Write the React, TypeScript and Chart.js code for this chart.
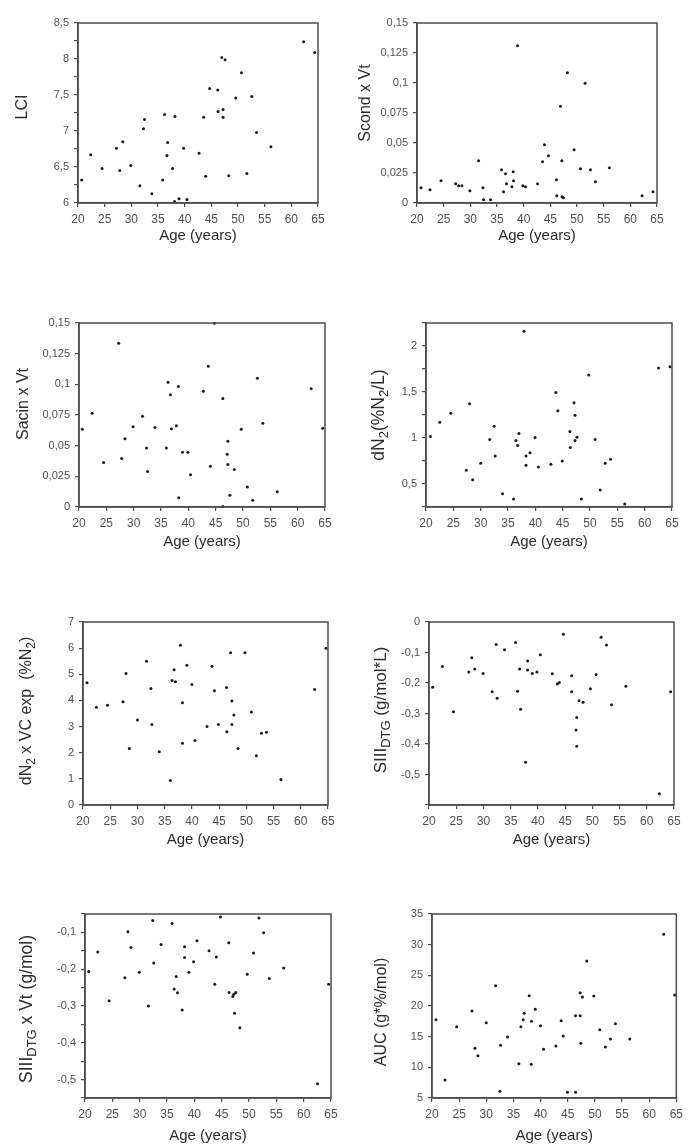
import React, { useEffect, useRef } from 'react';
import { Chart, registerables } from 'chart.js';

Chart.register(...registerables);

const FONT = '"Liberation Sans", Arial, Helvetica, sans-serif';

// ---------- data ----------
const ageTicks = [20, 25, 30, 35, 40, 45, 50, 55, 60, 65];

const lciAge = [20.69, 22.38, 24.51, 27.21, 27.83, 28.4, 29.9, 31.59, 32.28, 32.47, 33.85, 35.86, 36.23, 36.67, 36.8, 37.74, 38.11, 38.17, 38.93, 39.8, 40.43, 42.69, 43.56, 43.94, 44.69, 46.2, 46.26, 46.95, 47.2, 47.2, 47.58, 48.26, 49.58, 50.65, 51.65, 52.59, 53.47, 56.16, 62.3, 64.37];
const lciValues = [6.32, 6.67, 6.48, 6.76, 6.45, 6.85, 6.52, 6.24, 7.03, 7.16, 6.13, 6.32, 7.23, 6.66, 6.84, 6.48, 6.02, 7.2, 6.06, 6.76, 6.05, 6.69, 7.19, 6.37, 7.59, 7.57, 7.27, 8.02, 7.3, 7.19, 7.99, 6.38, 7.46, 7.81, 6.41, 7.48, 6.98, 6.78, 8.24, 8.09];

const scondAge = [20.75, 22.43, 24.5, 27.24, 27.8, 28.42, 29.92, 31.55, 32.36, 32.49, 33.8, 35.85, 36.22, 36.6, 36.78, 37.78, 38.04, 38.1, 38.85, 39.84, 40.34, 42.6, 43.53, 43.9, 44.65, 46.15, 46.2, 46.9, 47.15, 47.2, 47.45, 48.2, 49.45, 50.64, 51.52, 52.52, 53.45, 56.07, 62.2, 64.26];
const scondValues = [0.0128, 0.0111, 0.0186, 0.0161, 0.0144, 0.0144, 0.0103, 0.0353, 0.0128, 0.0028, 0.0028, 0.0278, 0.0094, 0.0244, 0.0161, 0.0136, 0.0261, 0.0186, 0.1311, 0.0144, 0.0136, 0.0161, 0.0344, 0.0486, 0.0394, 0.0194, 0.0061, 0.0806, 0.0353, 0.0053, 0.0044, 0.1086, 0.0444, 0.0286, 0.0997, 0.0278, 0.0178, 0.0294, 0.0061, 0.0094];

const sacinAge = [20.61, 22.4, 24.49, 27.25, 27.81, 28.42, 29.9, 31.62, 32.35, 32.54, 33.89, 35.98, 36.29, 36.72, 36.9, 37.82, 38.19, 38.25, 38.93, 39.91, 40.41, 42.74, 43.66, 44.03, 44.77, 46.31, 46.31, 47.11, 47.23, 47.23, 47.6, 48.4, 49.69, 50.79, 51.78, 52.64, 53.62, 56.26, 62.47, 64.56];
const sacinValues = [0.0633, 0.0764, 0.0363, 0.1334, 0.0395, 0.0556, 0.0655, 0.0739, 0.048, 0.0289, 0.0649, 0.048, 0.1017, 0.0916, 0.0638, 0.0663, 0.0982, 0.0076, 0.0447, 0.0447, 0.0262, 0.0944, 0.1148, 0.0333, 0.1497, 0.0884, 0.0005, 0.0431, 0.0537, 0.0346, 0.0095, 0.0305, 0.0633, 0.0164, 0.0055, 0.105, 0.0682, 0.0125, 0.0965, 0.0641];

const dn2Age = [20.8, 22.52, 24.54, 27.37, 27.98, 28.53, 30.01, 31.66, 32.46, 32.65, 34.0, 36.02, 36.45, 36.76, 37.0, 37.93, 38.29, 38.29, 39.03, 39.95, 40.56, 42.84, 43.76, 44.12, 44.92, 46.33, 46.4, 47.07, 47.26, 47.26, 47.62, 48.42, 49.77, 50.94, 51.86, 52.78, 53.76, 56.34, 62.54, 64.63];
const dn2Values = [1.016, 1.172, 1.27, 0.649, 1.372, 0.547, 0.725, 0.983, 1.128, 0.805, 0.394, 0.336, 0.972, 0.918, 1.048, 2.16, 0.805, 0.703, 0.841, 1.005, 0.685, 0.714, 1.495, 1.295, 0.75, 1.07, 0.896, 1.383, 1.248, 0.972, 1.008, 0.336, 1.684, 0.983, 0.434, 0.725, 0.769, 0.282, 1.76, 1.775];

const dn2VcAge = [20.74, 22.47, 24.51, 27.35, 27.9, 28.52, 30.0, 31.67, 32.47, 32.65, 34.01, 36.05, 36.36, 36.73, 36.98, 37.9, 38.27, 38.27, 39.07, 40.0, 40.56, 42.78, 43.7, 44.14, 44.88, 46.36, 46.42, 47.1, 47.35, 47.35, 47.72, 48.46, 49.75, 50.93, 51.85, 52.78, 53.7, 56.36, 62.53, 64.63];
const dn2VcValues = [4.68, 3.74, 3.82, 3.95, 5.03, 2.16, 3.25, 5.5, 4.46, 3.08, 2.04, 0.94, 4.76, 5.17, 4.71, 6.11, 3.91, 2.36, 5.35, 4.61, 2.47, 3.0, 5.31, 4.37, 3.08, 4.49, 2.8, 5.82, 3.98, 3.08, 3.44, 2.16, 5.82, 3.56, 1.88, 2.74, 2.78, 0.98, 4.42, 6.0];

const siiiAge = [20.68, 22.46, 24.48, 27.31, 27.86, 28.41, 29.94, 31.6, 32.34, 32.52, 33.87, 35.9, 36.27, 36.64, 36.82, 37.74, 38.11, 38.11, 38.97, 39.83, 40.44, 42.65, 43.57, 43.94, 44.68, 46.21, 46.21, 47.01, 47.13, 47.13, 47.56, 48.3, 49.65, 50.69, 51.61, 52.6, 53.52, 56.16, 62.3, 64.38];
const siiiValues = [-0.214, -0.146, -0.294, -0.164, -0.117, -0.154, -0.169, -0.229, -0.074, -0.25, -0.091, -0.067, -0.227, -0.154, -0.286, -0.46, -0.128, -0.157, -0.169, -0.164, -0.107, -0.17, -0.203, -0.198, -0.04, -0.176, -0.229, -0.354, -0.313, -0.407, -0.258, -0.263, -0.219, -0.172, -0.05, -0.075, -0.271, -0.211, -0.563, -0.229];

const siiiVtAge = [20.67, 22.33, 24.41, 27.3, 27.85, 28.4, 29.93, 31.59, 32.39, 32.57, 33.92, 35.94, 36.31, 36.68, 36.92, 37.78, 38.21, 38.21, 39.01, 39.87, 40.48, 42.69, 43.73, 44.03, 44.77, 46.3, 46.36, 47.04, 47.22, 47.35, 47.59, 48.33, 49.67, 50.84, 51.82, 52.67, 53.71, 56.34, 62.53, 64.56];
const siiiVtValues = [-0.206, -0.153, -0.286, -0.223, -0.098, -0.141, -0.208, -0.3, -0.068, -0.183, -0.133, -0.076, -0.254, -0.22, -0.264, -0.311, -0.139, -0.168, -0.208, -0.18, -0.123, -0.15, -0.241, -0.167, -0.058, -0.128, -0.263, -0.274, -0.268, -0.32, -0.263, -0.359, -0.214, -0.156, -0.061, -0.101, -0.225, -0.197, -0.511, -0.241];

const aucAge = [20.74, 22.39, 24.54, 27.36, 27.91, 28.46, 29.99, 31.71, 32.51, 32.63, 33.92, 36.0, 36.37, 36.8, 36.98, 37.9, 38.27, 38.33, 39.01, 39.99, 40.54, 42.81, 43.79, 44.16, 44.95, 46.43, 46.43, 47.28, 47.28, 47.41, 47.71, 48.51, 49.8, 50.9, 51.94, 52.86, 53.78, 56.42, 62.67, 64.7];
const aucValues = [17.77, 7.93, 16.63, 19.18, 13.1, 11.9, 17.28, 23.32, 6.09, 13.59, 14.95, 10.6, 16.63, 17.77, 18.8, 21.68, 10.49, 17.5, 19.46, 16.79, 12.93, 13.48, 17.61, 15.11, 5.92, 18.42, 5.92, 22.17, 18.42, 13.91, 21.47, 27.34, 21.63, 16.14, 13.32, 14.62, 17.12, 14.62, 31.68, 21.79];

// y-axis ranges: [min, max, tick step, labelled step]
const lciAxis = [6, 8.5, 0.25, 0.5];
const scondAxis = [0, 0.15, 0.025, 0.025];
const sacinAxis = [0, 0.15, 0.025, 0.025];
const dn2Axis = [0.25, 2.25, 0.25, 0.5];
const dn2VcAxis = [0, 7, 1, 1];
const siiiAxis = [-0.6, 0, 0.1, 0.1];
const siiiVtAxis = [-0.55, -0.05, 0.05, 0.1];
const aucAxis = [5, 35, 5, 5];

type Seg = { t: string; sub?: boolean };

const xTitle = 'Age (years)';

interface PanelDef {
  xs: number[];
  ys: number[];
  axis: number[];
  hideMin?: boolean;
  canvas: { x: number; y: number; w: number; h: number };
  plot: { l: number; t: number; r: number; b: number };
  yTitle: Seg[];
  yTitleSize: number;
  yTitlePos: [number, number];
  xTitleOffset: number;
}

const panels: PanelDef[] = [
  {
    xs: lciAge, ys: lciValues, axis: lciAxis,
    canvas: { x: 0, y: 0, w: 344, h: 262 },
    plot: { l: 78, t: 23, r: 318, b: 203 },
    yTitle: [{ t: 'LCI' }], yTitleSize: 16, yTitlePos: [23, 107], xTitleOffset: 33,
  },
  {
    xs: scondAge, ys: scondValues, axis: scondAxis,
    canvas: { x: 344, y: 0, w: 344, h: 262 },
    plot: { l: 417, t: 23, r: 657, b: 203 },
    yTitle: [{ t: 'Scond x Vt' }], yTitleSize: 16, yTitlePos: [366, 103], xTitleOffset: 33,
  },
  {
    xs: sacinAge, ys: sacinValues, axis: sacinAxis,
    canvas: { x: 0, y: 262, w: 344, h: 308 },
    plot: { l: 79, t: 323, r: 325, b: 507 },
    yTitle: [{ t: 'Sacin x Vt' }], yTitleSize: 16, yTitlePos: [24, 404], xTitleOffset: 35,
  },
  {
    xs: dn2Age, ys: dn2Values, axis: dn2Axis,
    canvas: { x: 344, y: 262, w: 344, h: 308 },
    plot: { l: 426, t: 323, r: 672, b: 507 },
    yTitle: [{ t: 'dN' }, { t: '2', sub: true }, { t: '(%N' }, { t: '2', sub: true }, { t: '/L)' }],
    yTitleSize: 17.5, yTitlePos: [379, 415], xTitleOffset: 35,
  },
  {
    xs: dn2VcAge, ys: dn2VcValues, axis: dn2VcAxis,
    canvas: { x: 0, y: 570, w: 344, h: 285 },
    plot: { l: 83, t: 622, r: 328, b: 805 },
    yTitle: [{ t: 'dN' }, { t: '2', sub: true }, { t: ' x VC exp  (%N' }, { t: '2', sub: true }, { t: ')' }],
    yTitleSize: 16, yTitlePos: [27, 711], xTitleOffset: 35,
  },
  {
    xs: siiiAge, ys: siiiValues, axis: siiiAxis, hideMin: true,
    canvas: { x: 344, y: 570, w: 344, h: 285 },
    plot: { l: 429, t: 622, r: 674, b: 805 },
    yTitle: [{ t: 'SIII' }, { t: 'DTG', sub: true }, { t: ' (g/mol*L)' }],
    yTitleSize: 17, yTitlePos: [381, 710], xTitleOffset: 35,
  },
  {
    xs: siiiVtAge, ys: siiiVtValues, axis: siiiVtAxis,
    canvas: { x: 0, y: 855, w: 344, h: 291 },
    plot: { l: 85, t: 914, r: 331, b: 1098 },
    yTitle: [{ t: 'SIII' }, { t: 'DTG', sub: true }, { t: ' x Vt (g/mol)' }],
    yTitleSize: 17.5, yTitlePos: [27, 1009], xTitleOffset: 38,
  },
  {
    xs: aucAge, ys: aucValues, axis: aucAxis,
    canvas: { x: 344, y: 855, w: 344, h: 291 },
    plot: { l: 432, t: 914, r: 678, b: 1098 },
    yTitle: [{ t: 'AUC (g*%/mol)' }], yTitleSize: 16, yTitlePos: [382, 1012], xTitleOffset: 38,
  },
];

const fmt = (v: number) => String(Math.round(v * 1000) / 1000).replace('.', ',');
const isMult = (v: number, s: number) => Math.abs(v / s - Math.round(v / s)) < 1e-6;

function buildConfig(p: PanelDef): any {
  const { canvas: c, plot } = p;
  const [ymin, ymax, ystep, ylab] = p.axis;
  const axisColor = '#4d4d4d';
  const tickColor = '#4f4f4f';
  const deco = {
    id: 'panelDeco',
    afterDraw(chart: any) {
      const ctx = chart.ctx;
      const a = chart.chartArea;
      ctx.save();
      ctx.strokeStyle = axisColor;
      ctx.lineWidth = 1.5;
      ctx.strokeRect(a.left, a.top, a.right - a.left, a.bottom - a.top);
      ctx.fillStyle = '#2b2b2b';
      ctx.font = `15px ${FONT}`;
      ctx.textAlign = 'center';
      ctx.textBaseline = 'middle';
      ctx.fillText(xTitle, (a.left + a.right) / 2, plot.b - c.y + p.xTitleOffset);
      const size = p.yTitleSize;
      const fontOf = (s: Seg) => `${s.sub ? Math.round(size * 0.74) : size}px ${FONT}`;
      const widths = p.yTitle.map((s) => {
        ctx.font = fontOf(s);
        return ctx.measureText(s.t).width;
      });
      const total = widths.reduce((q, w) => q + w, 0);
      ctx.translate(p.yTitlePos[0] - c.x, p.yTitlePos[1] - c.y);
      ctx.rotate(-Math.PI / 2);
      ctx.textAlign = 'left';
      let x = -total / 2;
      p.yTitle.forEach((s, i) => {
        ctx.font = fontOf(s);
        ctx.fillText(s.t, x, s.sub ? size * 0.3 : 0);
        x += widths[i];
      });
      ctx.restore();
    },
  };
  return {
    type: 'scatter',
    data: {
      datasets: [
        {
          data: p.xs.map((x, i) => ({ x, y: p.ys[i] })),
          pointRadius: 1.5,
          pointHoverRadius: 1.5,
          backgroundColor: '#1a1a1a',
          borderWidth: 0,
          clip: false,
        },
      ],
    },
    options: {
      responsive: false,
      animation: false,
      devicePixelRatio: 1,
      events: [],
      layout: {
        padding: { left: 0, top: plot.t - c.y, right: c.x + c.w - plot.r, bottom: 0 },
      },
      plugins: { legend: { display: false }, tooltip: { enabled: false } },
      scales: {
        x: {
          type: 'linear',
          position: 'bottom',
          min: ageTicks[0],
          max: ageTicks[ageTicks.length - 1],
          afterFit: (axis: any) => { axis.height = c.y + c.h - plot.b; },
          afterBuildTicks: (axis: any) => { axis.ticks = ageTicks.map((v) => ({ value: v })); },
          ticks: {
            stepSize: 5,
            autoSkip: false,
            maxRotation: 0,
            padding: 5,
            color: tickColor,
            font: { family: FONT, size: 12 },
            callback: (v: any) => String(v),
          },
          grid: { drawOnChartArea: false, drawTicks: true, tickLength: 4, color: axisColor, lineWidth: 1.2 },
          border: { display: true, color: axisColor, width: 1.5 },
        },
        y: {
          type: 'linear',
          position: 'left',
          min: ymin,
          max: ymax,
          afterFit: (axis: any) => { axis.width = plot.l - c.x; },
          ticks: {
            stepSize: ystep,
            autoSkip: false,
            padding: 5,
            color: tickColor,
            font: { family: FONT, size: 11 },
            callback: (v: any) => {
              const n = Number(v);
              if (p.hideMin && Math.abs(n - ymin) < 1e-9) return '';
              return isMult(n, ylab) ? fmt(n) : '';
            },
          },
          grid: { drawOnChartArea: false, drawTicks: true, tickLength: 4, color: axisColor, lineWidth: 1.2 },
          border: { display: true, color: axisColor, width: 1.5 },
        },
      },
    },
    plugins: [deco],
  };
}

function Panel({ p }: { p: PanelDef }) {
  const ref = useRef<HTMLCanvasElement | null>(null);
  useEffect(() => {
    if (!ref.current) return;
    const chart = new Chart(ref.current, buildConfig(p));
    return () => chart.destroy();
  }, [p]);
  return (
    <canvas
      ref={ref}
      width={p.canvas.w}
      height={p.canvas.h}
      style={{ position: 'absolute', left: p.canvas.x, top: p.canvas.y, width: p.canvas.w, height: p.canvas.h }}
    />
  );
}

export default function App() {
  return (
    <div style={{ position: 'absolute', left: 0, top: 0, width: 688, height: 1146, background: '#fff', overflow: 'hidden' }}>
      {panels.map((p, i) => (
        <Panel key={i} p={p} />
      ))}
    </div>
  );
}
